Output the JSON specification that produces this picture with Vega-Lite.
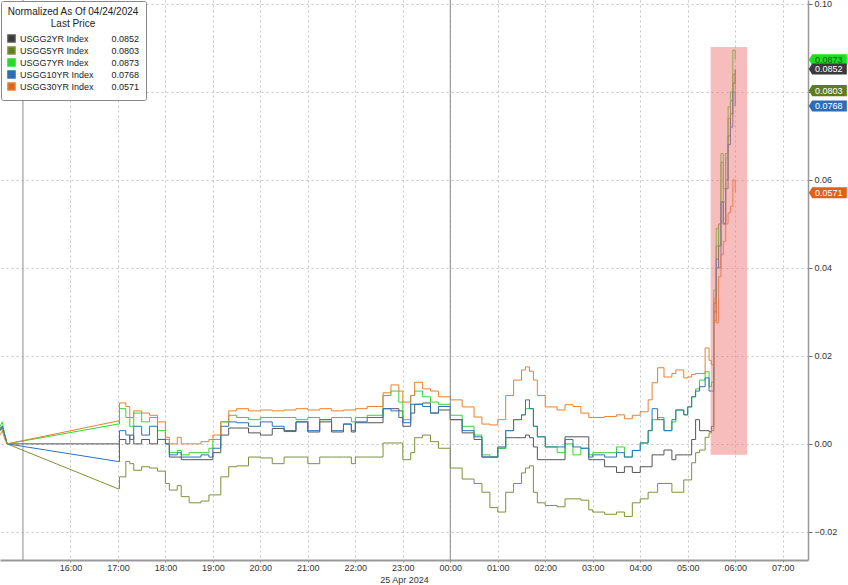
{
  "$schema": "https://vega.github.io/schema/vega-lite/v6.json",
  "width": 808,
  "height": 560,
  "autosize": {"type": "none"},
  "padding": {"left": 0, "top": 0, "right": 40, "bottom": 25},
  "background": "white",
  "config": {"view": {"stroke": null}, "font": "Liberation Sans"},
  "datasets": {
    "yields": [
      {"t":"2024-04-24T14:31","s2":0.003,"s5":0.004,"s7":0.004,"s10":0.003,"s30":0.002},
      {"t":"2024-04-24T14:34","s2":0.004,"s5":0.003,"s7":0.005,"s10":0.004,"s30":0.003},
      {"t":"2024-04-24T14:37","s2":0.002,"s5":0.002,"s7":0.002,"s10":0.002,"s30":0.001},
      {"t":"2024-04-24T14:40","s2":0,"s5":0,"s7":0,"s10":0,"s30":0},
      {"t":"2024-04-24T17:00","s2":0,"s5":-0.0102,"s7":0.0045,"s10":-0.004,"s30":0.0052},
      {"t":"2024-04-24T17:02","s2":0.001,"s5":-0.0075,"s7":0.008,"s10":0.003,"s30":0.0093},
      {"t":"2024-04-24T17:10","s2":0,"s5":-0.004,"s7":0.006,"s10":0.002,"s30":0.0085},
      {"t":"2024-04-24T17:15","s2":0.002,"s5":-0.0045,"s7":0.004,"s10":0.001,"s30":0.006},
      {"t":"2024-04-24T17:20","s2":0,"s5":-0.006,"s7":0.007,"s10":0.004,"s30":0.0075},
      {"t":"2024-04-24T17:30","s2":0.001,"s5":-0.0052,"s7":0.005,"s10":0.002,"s30":0.007},
      {"t":"2024-04-24T17:40","s2":0,"s5":-0.0055,"s7":0.006,"s10":0.004,"s30":0.0065},
      {"t":"2024-04-24T17:50","s2":0.001,"s5":-0.0062,"s7":0.003,"s10":0.001,"s30":0.005},
      {"t":"2024-04-24T18:00","s2":0,"s5":-0.009,"s7":0.001,"s10":0,"s30":0.0015},
      {"t":"2024-04-24T18:05","s2":-0.003,"s5":-0.0105,"s7":-0.002,"s10":-0.0025,"s30":0},
      {"t":"2024-04-24T18:15","s2":-0.003,"s5":-0.0095,"s7":-0.0015,"s10":-0.002,"s30":0.0015},
      {"t":"2024-04-24T18:20","s2":-0.0036,"s5":-0.012,"s7":-0.0025,"s10":-0.003,"s30":0},
      {"t":"2024-04-24T18:30","s2":-0.0036,"s5":-0.0134,"s7":-0.002,"s10":-0.003,"s30":0},
      {"t":"2024-04-24T18:45","s2":-0.0036,"s5":-0.013,"s7":-0.002,"s10":-0.0025,"s30":0.0005},
      {"t":"2024-04-24T18:55","s2":-0.0036,"s5":-0.0116,"s7":-0.001,"s10":-0.003,"s30":0.001},
      {"t":"2024-04-24T19:00","s2":-0.002,"s5":-0.0116,"s7":0.001,"s10":-0.001,"s30":0.002},
      {"t":"2024-04-24T19:10","s2":0.002,"s5":-0.0075,"s7":0.005,"s10":0.004,"s30":0.005},
      {"t":"2024-04-24T19:20","s2":0.0036,"s5":-0.0052,"s7":0.0065,"s10":0.005,"s30":0.0075},
      {"t":"2024-04-24T19:30","s2":0.0036,"s5":-0.005,"s7":0.006,"s10":0.0048,"s30":0.008},
      {"t":"2024-04-24T19:45","s2":0.0025,"s5":-0.003,"s7":0.0055,"s10":0.004,"s30":0.0075},
      {"t":"2024-04-24T20:00","s2":0.002,"s5":-0.0032,"s7":0.006,"s10":0.005,"s30":0.0077},
      {"t":"2024-04-24T20:15","s2":0.0035,"s5":-0.0045,"s7":0.006,"s10":0.004,"s30":0.0075},
      {"t":"2024-04-24T20:30","s2":0.003,"s5":-0.003,"s7":0.006,"s10":0.0028,"s30":0.0077},
      {"t":"2024-04-24T20:45","s2":0.005,"s5":-0.003,"s7":0.0055,"s10":0.005,"s30":0.008},
      {"t":"2024-04-24T21:00","s2":0.0027,"s5":-0.0045,"s7":0.006,"s10":0.003,"s30":0.0077},
      {"t":"2024-04-24T21:15","s2":0.005,"s5":-0.003,"s7":0.0055,"s10":0.0055,"s30":0.008},
      {"t":"2024-04-24T21:30","s2":0.0027,"s5":-0.003,"s7":0.006,"s10":0.003,"s30":0.0075},
      {"t":"2024-04-24T21:45","s2":0.0045,"s5":-0.003,"s7":0.006,"s10":0.0045,"s30":0.0077},
      {"t":"2024-04-24T21:55","s2":0.0027,"s5":-0.0045,"s7":0.005,"s10":0.003,"s30":0.0077},
      {"t":"2024-04-24T22:00","s2":0.0048,"s5":-0.003,"s7":0.006,"s10":0.005,"s30":0.008},
      {"t":"2024-04-24T22:15","s2":0.0048,"s5":-0.003,"s7":0.0065,"s10":0.006,"s30":0.0085},
      {"t":"2024-04-24T22:35","s2":0.008,"s5":0.0002,"s7":0.011,"s10":0.008,"s30":0.0116},
      {"t":"2024-04-24T22:45","s2":0.008,"s5":0.0002,"s7":0.012,"s10":0.0075,"s30":0.0134},
      {"t":"2024-04-24T22:55","s2":0.0075,"s5":0.0002,"s7":0.0095,"s10":0.006,"s30":0.012},
      {"t":"2024-04-24T23:00","s2":0.004,"s5":-0.0036,"s7":0.0055,"s10":0.0048,"s30":0.0095},
      {"t":"2024-04-24T23:10","s2":0.007,"s5":-0.002,"s7":0.011,"s10":0.009,"s30":0.011},
      {"t":"2024-04-24T23:15","s2":0.009,"s5":0.0014,"s7":0.012,"s10":0.009,"s30":0.014},
      {"t":"2024-04-24T23:25","s2":0.0093,"s5":0.002,"s7":0.0107,"s10":0.0085,"s30":0.0125},
      {"t":"2024-04-24T23:35","s2":0.007,"s5":0.0005,"s7":0.0095,"s10":0.007,"s30":0.012},
      {"t":"2024-04-24T23:45","s2":0.0077,"s5":-0.001,"s7":0.009,"s10":0.0085,"s30":0.0107},
      {"t":"2024-04-25T00:00","s2":0.0055,"s5":-0.0055,"s7":0.0065,"s10":0.0055,"s30":0.01},
      {"t":"2024-04-25T00:15","s2":0.0025,"s5":-0.008,"s7":0.004,"s10":0.003,"s30":0.0084},
      {"t":"2024-04-25T00:30","s2":0.001,"s5":-0.009,"s7":0.002,"s10":0.0016,"s30":0.0061},
      {"t":"2024-04-25T00:40","s2":-0.003,"s5":-0.011,"s7":-0.0025,"s10":-0.003,"s30":0.0045},
      {"t":"2024-04-25T00:50","s2":-0.003,"s5":-0.0145,"s7":-0.003,"s10":-0.003,"s30":0.0043},
      {"t":"2024-04-25T01:00","s2":-0.001,"s5":-0.0155,"s7":-0.001,"s10":-0.0007,"s30":0.0055},
      {"t":"2024-04-25T01:10","s2":0.0014,"s5":-0.011,"s7":0.003,"s10":0.003,"s30":0.011},
      {"t":"2024-04-25T01:20","s2":0.0014,"s5":-0.009,"s7":0.0055,"s10":0.0055,"s30":0.0145},
      {"t":"2024-04-25T01:30","s2":0.0014,"s5":-0.0066,"s7":0.0066,"s10":0.0066,"s30":0.0168},
      {"t":"2024-04-25T01:35","s2":0.002,"s5":-0.0055,"s7":0.008,"s10":0.01,"s30":0.0175},
      {"t":"2024-04-25T01:40","s2":0.0014,"s5":-0.005,"s7":0.008,"s10":0.008,"s30":0.0165},
      {"t":"2024-04-25T01:45","s2":-0.0007,"s5":-0.011,"s7":0.004,"s10":0.004,"s30":0.0145},
      {"t":"2024-04-25T01:50","s2":-0.0036,"s5":-0.0134,"s7":0.0016,"s10":0.0016,"s30":0.011},
      {"t":"2024-04-25T02:00","s2":-0.0036,"s5":-0.014,"s7":-0.0007,"s10":-0.0007,"s30":0.0084},
      {"t":"2024-04-25T02:15","s2":-0.0036,"s5":-0.0143,"s7":-0.002,"s10":-0.0007,"s30":0.0077},
      {"t":"2024-04-25T02:25","s2":0.0016,"s5":-0.0125,"s7":0,"s10":0.001,"s30":0.0089},
      {"t":"2024-04-25T02:35","s2":0.0016,"s5":-0.0125,"s7":-0.0025,"s10":-0.0007,"s30":0.0085},
      {"t":"2024-04-25T02:45","s2":0.0016,"s5":-0.0128,"s7":-0.001,"s10":-0.001,"s30":0.007},
      {"t":"2024-04-25T02:55","s2":-0.0036,"s5":-0.015,"s7":-0.0025,"s10":-0.003,"s30":0.006},
      {"t":"2024-04-25T03:00","s2":-0.0036,"s5":-0.0155,"s7":-0.002,"s10":-0.0025,"s30":0.006},
      {"t":"2024-04-25T03:15","s2":-0.0052,"s5":-0.016,"s7":-0.002,"s10":-0.003,"s30":0.0062},
      {"t":"2024-04-25T03:30","s2":-0.0065,"s5":-0.0155,"s7":-0.0007,"s10":-0.002,"s30":0.0066},
      {"t":"2024-04-25T03:40","s2":-0.0052,"s5":-0.0165,"s7":-0.003,"s10":-0.003,"s30":0.0057},
      {"t":"2024-04-25T03:50","s2":-0.0065,"s5":-0.0134,"s7":-0.0015,"s10":-0.0015,"s30":0.0065},
      {"t":"2024-04-25T04:00","s2":-0.0052,"s5":-0.0125,"s7":0.0002,"s10":0.0002,"s30":0.0073},
      {"t":"2024-04-25T04:10","s2":-0.0052,"s5":-0.011,"s7":0.003,"s10":0.003,"s30":0.01},
      {"t":"2024-04-25T04:15","s2":-0.0025,"s5":-0.011,"s7":0.0055,"s10":0.008,"s30":0.0139},
      {"t":"2024-04-25T04:22","s2":-0.0025,"s5":-0.009,"s7":0.006,"s10":0.0055,"s30":0.0173},
      {"t":"2024-04-25T04:30","s2":-0.0014,"s5":-0.009,"s7":0.003,"s10":0.003,"s30":0.0152},
      {"t":"2024-04-25T04:40","s2":-0.0036,"s5":-0.011,"s7":0.005,"s10":0.0055,"s30":0.016},
      {"t":"2024-04-25T04:45","s2":-0.0025,"s5":-0.011,"s7":0.0077,"s10":0.0077,"s30":0.0168},
      {"t":"2024-04-25T04:55","s2":-0.0025,"s5":-0.0082,"s7":0.0066,"s10":0.0066,"s30":0.015},
      {"t":"2024-04-25T05:00","s2":-0.0025,"s5":-0.0082,"s7":0.0084,"s10":0.0084,"s30":0.0152},
      {"t":"2024-04-25T05:05","s2":0.001,"s5":-0.0043,"s7":0.0107,"s10":0.0107,"s30":0.0158},
      {"t":"2024-04-25T05:10","s2":0.0055,"s5":-0.002,"s7":0.0125,"s10":0.012,"s30":0.016},
      {"t":"2024-04-25T05:15","s2":0.003,"s5":-0.0014,"s7":0.0145,"s10":0.013,"s30":0.016},
      {"t":"2024-04-25T05:22","s2":0.003,"s5":0.0015,"s7":0.0164,"s10":0.015,"s30":0.0218},
      {"t":"2024-04-25T05:27","s2":0.0028,"s5":0.0025,"s7":0.013,"s10":0.012,"s30":0.019},
      {"t":"2024-04-25T05:30","s2":0.004,"s5":0.003,"s7":0.014,"s10":0.012,"s30":0.018},
      {"t":"2024-04-25T05:33","s2":0.03,"s5":0.028,"s7":0.035,"s10":0.032,"s30":0.033},
      {"t":"2024-04-25T05:36","s2":0.04,"s5":0.045,"s7":0.049,"s10":0.042,"s30":0.0275},
      {"t":"2024-04-25T05:39","s2":0.045,"s5":0.05,"s7":0.045,"s10":0.04,"s30":0.038},
      {"t":"2024-04-25T05:42","s2":0.055,"s5":0.064,"s7":0.066,"s10":0.055,"s30":0.043},
      {"t":"2024-04-25T05:45","s2":0.05,"s5":0.058,"s7":0.055,"s10":0.05,"s30":0.046},
      {"t":"2024-04-25T05:48","s2":0.06,"s5":0.066,"s7":0.065,"s10":0.058,"s30":0.05},
      {"t":"2024-04-25T05:51","s2":0.07,"s5":0.074,"s7":0.0766,"s10":0.068,"s30":0.0525},
      {"t":"2024-04-25T05:54","s2":0.075,"s5":0.078,"s7":0.08,"s10":0.072,"s30":0.054},
      {"t":"2024-04-25T05:57","s2":0.082,"s5":0.084,"s7":0.0895,"s10":0.08,"s30":0.06},
      {"t":"2024-04-25T06:00","s2":0.0852,"s5":0.0803,"s7":0.0873,"s10":0.0768,"s30":0.0571}
    ],
    "tags": [
      {"t":"2024-04-25T07:57","v":0.0873,"lab":"0.0873","k":"s7"},
      {"t":"2024-04-25T07:57","v":0.0852,"lab":"0.0852","k":"s2"},
      {"t":"2024-04-25T07:57","v":0.0803,"lab":"0.0803","k":"s5"},
      {"t":"2024-04-25T07:57","v":0.0768,"lab":"0.0768","k":"s10"},
      {"t":"2024-04-25T07:57","v":0.0571,"lab":"0.0571","k":"s30"}
    ]
  },
  "layer": [
    {
      "data": {"name": "yields"},
      "transform": [
        {"fold": ["s2","s5","s7","s10","s30"], "as": ["k","v"]},
        {"filter": {"field": "t", "gte": {"year":2024,"month":4,"date":24,"hours":17,"minutes":0}}}
      ],
      "mark": {"type": "line", "interpolate": "step-after", "strokeWidth": 1},
      "encoding": {
        "x": {"field": "t", "type": "temporal",
          "scale": {"domain": [{"year":2024,"month":4,"date":24,"hours":14,"minutes":31},{"year":2024,"month":4,"date":25,"hours":7,"minutes":32}]},
          "axis": {
            "values": [
              {"year":2024,"month":4,"date":24,"hours":16},{"year":2024,"month":4,"date":24,"hours":17},
              {"year":2024,"month":4,"date":24,"hours":18},{"year":2024,"month":4,"date":24,"hours":19},
              {"year":2024,"month":4,"date":24,"hours":20},{"year":2024,"month":4,"date":24,"hours":21},
              {"year":2024,"month":4,"date":24,"hours":22},{"year":2024,"month":4,"date":24,"hours":23},
              {"year":2024,"month":4,"date":25,"hours":0},{"year":2024,"month":4,"date":25,"hours":1},
              {"year":2024,"month":4,"date":25,"hours":2},{"year":2024,"month":4,"date":25,"hours":3},
              {"year":2024,"month":4,"date":25,"hours":4},{"year":2024,"month":4,"date":25,"hours":5},
              {"year":2024,"month":4,"date":25,"hours":6},{"year":2024,"month":4,"date":25,"hours":7}
            ],
            "format": "%H:%M",
            "title": "25 Apr 2024",
            "titleFontSize": 9, "titleFontWeight": "normal", "titleColor": "#333", "titlePadding": 3,
            "labelFontSize": 9, "labelColor": "#333", "labelPadding": 1,
            "tickSize": 2, "tickColor": "#888",
            "domainColor": "#999", "domainWidth": 2,
            "grid": true, "gridColor": "#c4c4c4", "gridDash": [2, 3]
          }
        },
        "y": {"field": "v", "type": "quantitative",
          "scale": {"domain": [-0.0264, 0.1009], "nice": false, "zero": false},
          "axis": {
            "orient": "right", "title": null,
            "values": [-0.02, 0, 0.02, 0.04, 0.06, 0.08, 0.10],
            "format": ".2f",
            "labelExpr": "datum.value == 0.08 ? '' : datum.label",
            "labelFontSize": 9, "labelColor": "#333", "labelPadding": 2,
            "tickSize": 4, "tickColor": "#666",
            "domainColor": "#999", "domainWidth": 1.5,
            "grid": true, "gridColor": "#c4c4c4", "gridDash": [2, 3]
          }
        },
        "color": {"field": "k", "type": "nominal",
          "scale": {"domain": ["s2","s5","s7","s10","s30"], "range": ["#555555","#7d9235","#33d633","#2f72b8","#e8802e"]},
          "legend": {
            "orient": "top-left", "offset": 1,
            "title": ["Normalized As Of 04/24/2024", "Last Price"],
            "titleFontSize": 10, "titleFontWeight": "normal", "titleColor": "#222",
            "titleAnchor": "middle", "titleAlign": "center", "titleLineHeight": 12, "titlePadding": 5,
            "labelFontSize": 9, "labelColor": "#222", "labelOffset": 4,
            "symbolType": "square", "symbolSize": 50, "rowPadding": -3,
            "padding": 6, "fillColor": "white", "strokeColor": "#888", "cornerRadius": 2,
            "labelExpr": "datum.value == 's2' ? 'USGG2YR Index\u2007\u2002\u2002\u2002\u20020.0852' : datum.value == 's5' ? 'USGG5YR Index\u2007\u2002\u2002\u2002\u20020.0803' : datum.value == 's7' ? 'USGG7YR Index\u2007\u2002\u2002\u2002\u20020.0873' : datum.value == 's10' ? 'USGG10YR Index\u2002\u2002\u2002\u20020.0768' : 'USGG30YR Index\u2002\u2002\u2002\u20020.0571'",
            "encode": {"symbols": {"update": {"fill": {"scale": "color", "field": "value"}, "stroke": {"scale": "color", "field": "value"}}}}
          }
        }
      }
    },
    {
      "data": {"name": "yields"},
      "transform": [
        {"fold": ["s2","s5","s7","s10","s30"], "as": ["k","v"]},
        {"filter": {"field": "t", "lte": {"year":2024,"month":4,"date":24,"hours":17,"minutes":0}}}
      ],
      "mark": {"type": "line", "strokeWidth": 1},
      "encoding": {
        "x": {"field": "t", "type": "temporal"},
        "y": {"field": "v", "type": "quantitative"},
        "color": {"field": "k", "type": "nominal"}
      }
    },
    {
      "data": {"values": [{"t": "2024-04-24T15:00"}, {"t": "2024-04-25T00:00"}]},
      "mark": {"type": "rule", "color": "#8a8a8a", "strokeWidth": 1},
      "encoding": {"x": {"field": "t", "type": "temporal"}}
    },
    {
      "data": {"values": [{"t": "2024-04-25T05:29", "t2": "2024-04-25T06:15", "top": 0.0902, "bottom": -0.0025}]},
      "mark": {"type": "rect", "fill": "#f07a7a", "opacity": 0.5},
      "encoding": {
        "x": {"field": "t", "type": "temporal"},
        "x2": {"field": "t2"},
        "y": {"field": "top", "type": "quantitative"},
        "y2": {"field": "bottom"}
      }
    },
    {
      "data": {"name": "tags"},
      "mark": {"type": "point", "shape": "M-1,0 L-0.82,-0.29 L1,-0.29 L1,0.29 L-0.82,0.29 Z", "size": 1444, "filled": true, "opacity": 1},
      "encoding": {
        "x": {"field": "t", "type": "temporal"},
        "y": {"field": "v", "type": "quantitative"},
        "fill": {"field": "k", "type": "nominal", "legend": null,
          "scale": {"domain": ["s2","s5","s7","s10","s30"], "range": ["#3a3a3a","#5e7d1c","#22dd22","#2e6db4","#e0621a"]}}
      }
    },
    {
      "data": {"name": "tags"},
      "mark": {"type": "text", "fontSize": 9, "align": "center", "baseline": "middle", "dx": 1},
      "encoding": {
        "x": {"field": "t", "type": "temporal"},
        "y": {"field": "v", "type": "quantitative"},
        "text": {"field": "lab"},
        "color": {"condition": {"test": "datum.k == 's7'", "value": "#0a5a0a"}, "value": "white"}
      }
    }
  ]
}
